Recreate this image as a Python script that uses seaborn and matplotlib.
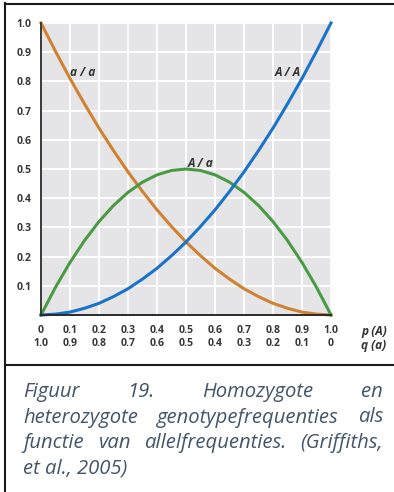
import numpy as np
import pandas as pd
import matplotlib
matplotlib.use("Agg")
import matplotlib.pyplot as plt
import seaborn as sns
from matplotlib.lines import Line2D

# ---- data ----
p_values = [0.00, 0.05, 0.10, 0.15, 0.20, 0.25, 0.30, 0.35, 0.40, 0.45, 0.50,
            0.55, 0.60, 0.65, 0.70, 0.75, 0.80, 0.85, 0.90, 0.95, 1.00]
freq_AA = [0.000, 0.003, 0.010, 0.023, 0.040, 0.063, 0.090, 0.123, 0.160, 0.203, 0.250,
           0.303, 0.360, 0.423, 0.490, 0.563, 0.640, 0.723, 0.810, 0.903, 1.000]
freq_aa = [1.000, 0.903, 0.810, 0.723, 0.640, 0.563, 0.490, 0.423, 0.360, 0.303, 0.250,
           0.203, 0.160, 0.123, 0.090, 0.063, 0.040, 0.023, 0.010, 0.003, 0.000]
freq_Aa = [0.000, 0.095, 0.180, 0.255, 0.320, 0.375, 0.420, 0.455, 0.480, 0.495, 0.500,
           0.495, 0.480, 0.455, 0.420, 0.375, 0.320, 0.255, 0.180, 0.095, 0.000]

x_tick_p = ["0", "0.1", "0.2", "0.3", "0.4", "0.5", "0.6", "0.7", "0.8", "0.9", "1.0"]
x_tick_q = ["1.0", "0.9", "0.8", "0.7", "0.6", "0.5", "0.4", "0.3", "0.2", "0.1", "0"]
y_tick_labels = ["0.1", "0.2", "0.3", "0.4", "0.5", "0.6", "0.7", "0.8", "0.9", "1.0"]

caption_lines = [
    "Figuur 19. Homozygote en",
    "heterozygote genotypefrequenties als",
    "functie van allelfrequenties. (Griffiths,",
    "et al., 2005)",
]

W, H = 394, 492
fig = plt.figure(figsize=(W / 100, H / 100), dpi=100)
fig.patch.set_facecolor("white")

def fx(x):
    return x / W

def fy(y):
    return 1 - y / H

ax_left, ax_right, ax_top, ax_bottom = 41, 331, 23, 315
ax = fig.add_axes([fx(ax_left), fy(ax_bottom), (ax_right - ax_left) / W, (ax_bottom - ax_top) / H])

df = pd.DataFrame({"p": p_values, "AA": freq_AA, "aa": freq_aa, "Aa": freq_Aa})
c_orange = "#cf822f"
c_blue = "#1a73c8"
c_green = "#4a9a45"
sns.lineplot(data=df, x="p", y="aa", ax=ax, color=c_orange, linewidth=2.2, clip_on=False)
sns.lineplot(data=df, x="p", y="Aa", ax=ax, color=c_green, linewidth=2.2, clip_on=False)
sns.lineplot(data=df, x="p", y="AA", ax=ax, color=c_blue, linewidth=2.2, clip_on=False)

ax.set_xlim(0, 1)
ax.set_ylim(0, 1)
ax.set_facecolor("#e5e5e7")
ax.set_xlabel("")
ax.set_ylabel("")

grid_pos = [i / 10 for i in range(1, 11)]
for g in grid_pos:
    ax.axvline(g, color="white", linewidth=1.3, zorder=0.5)
    ax.axhline(g, color="white", linewidth=1.3, zorder=0.5)

ax.spines["top"].set_visible(False)
ax.spines["right"].set_visible(False)
ax.spines["left"].set_color("#3a3a3a")
ax.spines["bottom"].set_color("#2a2a2a")
ax.spines["left"].set_linewidth(1.4)
ax.spines["bottom"].set_linewidth(1.4)

tick_font = dict(family="Open Sans", weight="bold", size=7.6, color="#383838")
ax.set_xticks([i / 10 for i in range(11)])
ax.set_xticklabels([f"{a}\n{b}" for a, b in zip(x_tick_p, x_tick_q)],
                   fontdict=tick_font, linespacing=1.25)
ax.set_yticks([i / 10 for i in range(1, 11)])
ax.set_yticklabels(y_tick_labels, fontdict=tick_font)
ax.tick_params(axis="both", length=0)
ax.tick_params(axis="x", pad=7)
ax.tick_params(axis="y", pad=7)

label_font = dict(family="Open Sans", weight="bold", style="italic", size=8.6, color="#333333")
ax.text(0.145, 0.83, "a / a", ha="center", va="center", **label_font)
ax.text(0.85, 0.83, "A / A", ha="center", va="center", **label_font)
ax.text(0.55, 0.52, "A / a", ha="center", va="center", **label_font)

fig.text(fx(361), fy(332), "p (A)", ha="left", va="center", **label_font)
fig.text(fx(361), fy(346), "q (a)", ha="left", va="center", **label_font)

# frame lines
lc = "#1a1a1a"
fig.add_artist(Line2D([fx(5), fx(5)], [fy(3), fy(492)], color=lc, linewidth=1.5))
fig.add_artist(Line2D([fx(5), fx(394)], [fy(4), fy(4)], color=lc, linewidth=1.5))
fig.add_artist(Line2D([fx(5), fx(394)], [fy(365), fy(365)], color=lc, linewidth=1.5))

# caption, justified
cap_font = dict(family="Open Sans", style="italic", size=14.6, color="#44546a")
x_left, x_right = 23, 383
baselines = [397, 422.5, 448, 473.5]
fig.canvas.draw()
renderer = fig.canvas.get_renderer()
for i, (line, yb) in enumerate(zip(caption_lines, baselines)):
    words = line.split(" ")
    if i == len(caption_lines) - 1:
        fig.text(fx(x_left), fy(yb), line, ha="left", va="baseline", **cap_font)
        continue
    arts = [fig.text(0, fy(yb), w, ha="left", va="baseline", **cap_font) for w in words]
    widths = [a.get_window_extent(renderer).width for a in arts]
    gap = (x_right - x_left - sum(widths)) / (len(words) - 1)
    x = x_left
    for a, w in zip(arts, widths):
        a.set_x(fx(x))
        x += w + gap

fig.savefig("out.png", dpi=100)
